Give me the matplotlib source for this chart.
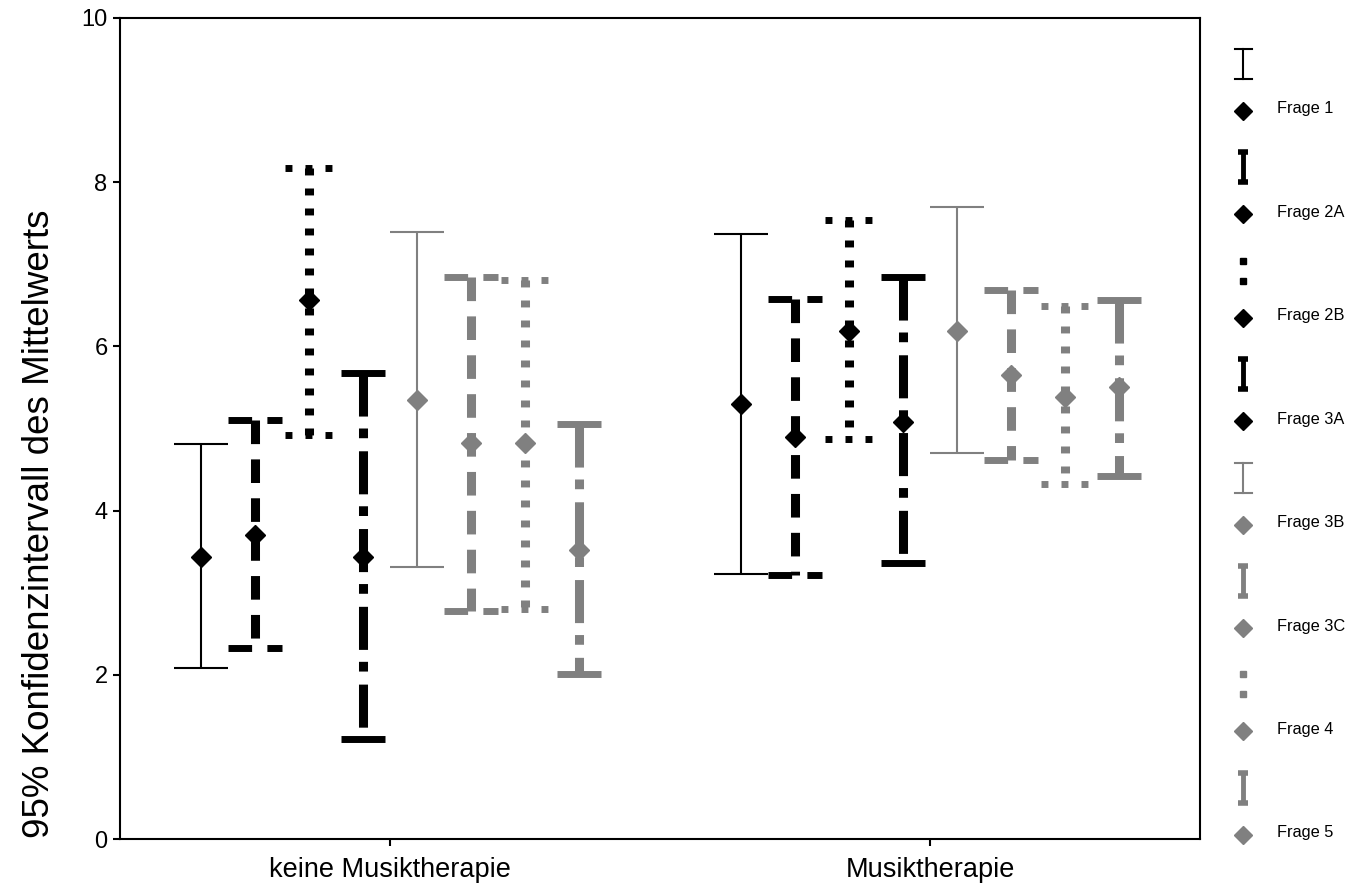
import matplotlib
matplotlib.use('Agg')
import matplotlib.pyplot as plt

plt.rcParams['font.family'] = ['Liberation Sans', 'DejaVu Sans']
plt.rcParams['lines.scale_dashes'] = False

# Gruppen und Fragen
gruppen = ['keine Musiktherapie', 'Musiktherapie']
fragen = ['Frage 1', 'Frage 2A', 'Frage 2B', 'Frage 3A',
          'Frage 3B', 'Frage 3C', 'Frage 4', 'Frage 5']

# Mittelwert und 95%-KI, keine Musiktherapie
mittel_keine = [3.44, 3.70, 6.56, 3.43, 5.35, 4.82, 4.82, 3.52]
unten_keine = [2.08, 2.33, 4.92, 1.22, 3.31, 2.78, 2.80, 2.01]
oben_keine = [4.81, 5.10, 8.17, 5.67, 7.39, 6.84, 6.81, 5.05]

# Mittelwert und 95%-KI, Musiktherapie
mittel_musik = [5.30, 4.90, 6.19, 5.08, 6.19, 5.65, 5.38, 5.51]
unten_musik = [3.23, 3.21, 4.87, 3.36, 4.70, 4.62, 4.32, 4.42]
oben_musik = [7.37, 6.58, 7.54, 6.85, 7.70, 6.69, 6.49, 6.57]

yticks = [0, 2, 4, 6, 8, 10]

# Darstellung je Frage
grau = '#808080'
farben = ['black'] * 4 + [grau] * 4
stile = ['-', (0, (17, 11)), (0, (5, 9.4)), (0, (31, 8.6, 7, 9.4))] * 2
cap_stile = ['-', (0, (17, 11)), (0, (5, 9.4)), '-'] * 2
breiten = [1.5, 6.5, 6.5, 6.5] * 2
cap_breiten = [1.5, 5, 5, 5] * 2
cap_halb = [0.05, 0.05, 0.045, 0.04] * 2
leg_art = ['duenn', 'dick', 'punkt', 'dick'] * 2

fig = plt.figure(figsize=(13.6, 8.91), dpi=100)
ax = fig.add_axes([120 / 1360, 1 - 839 / 891, 1080 / 1360, 821 / 891])

daten = [(mittel_keine, unten_keine, oben_keine),
         (mittel_musik, unten_musik, oben_musik)]
for g, (mw, lo, hi) in enumerate(daten):
    for i in range(len(fragen)):
        x = g + (i - 3.5) * 0.1
        ax.plot([x, x], [hi[i], lo[i]], color=farben[i], lw=breiten[i],
                linestyle=stile[i], solid_capstyle='butt',
                dash_capstyle='butt')
        for y in (hi[i], lo[i]):
            ax.plot([x - cap_halb[i], x + cap_halb[i]], [y, y],
                    color=farben[i], lw=cap_breiten[i],
                    linestyle=cap_stile[i], solid_capstyle='butt',
                    dash_capstyle='butt')
        ax.plot(x, mw[i], 'D', color=farben[i], ms=10, zorder=5)

ax.set_xlim(-0.5, 1.5)
ax.set_ylim(0, 10)
ax.set_xticks([0, 1])
ax.set_xticklabels(gruppen, fontsize=19.5)
ax.set_yticks(yticks)
ax.set_yticklabels([str(t) for t in yticks], fontsize=17)
ax.tick_params(axis='both', direction='out', length=5, width=1.5, pad=4)
ax.tick_params(axis='x', pad=8)
for sp in ax.spines.values():
    sp.set_linewidth(1.5)

fig.text(40 / 1360, 1 - 524 / 891, '95% Konfidenzintervall des Mittelwerts',
         rotation=90, ha='center', va='center', fontsize=26.5)

# Legende rechts
lax = fig.add_axes([1205 / 1360, 0, 155 / 1360, 1])
lax.set_xlim(1205, 1360)
lax.set_ylim(891, 0)
lax.axis('off')
xs = 1243
for i, name in enumerate(fragen):
    ly = 108 + i * 103.4
    sy = ly - 44
    c = farben[i]
    if leg_art[i] == 'duenn':
        lax.plot([xs, xs], [sy - 15, sy + 15], color=c, lw=1.5)
        for yy in (sy - 15, sy + 15):
            lax.plot([xs - 8.5, xs + 8.5], [yy, yy], color=c, lw=1.5)
    elif leg_art[i] == 'dick':
        lax.plot([xs, xs], [sy - 16, sy + 16], color=c, lw=3.5,
                 solid_capstyle='butt')
        for yy in (sy - 15, sy + 15):
            lax.plot([xs - 5, xs + 5], [yy, yy], color=c, lw=4,
                     solid_capstyle='butt')
    else:
        lax.plot([xs, xs], [sy - 10, sy + 10], 's', color=c, ms=5)
    lax.plot(xs, ly + 3, 'D', color=c, ms=9.5)
    lax.text(1277, ly + 1, name, ha='left', va='center', fontsize=11.8)

fig.savefig('out.png', dpi=100, facecolor='white')
